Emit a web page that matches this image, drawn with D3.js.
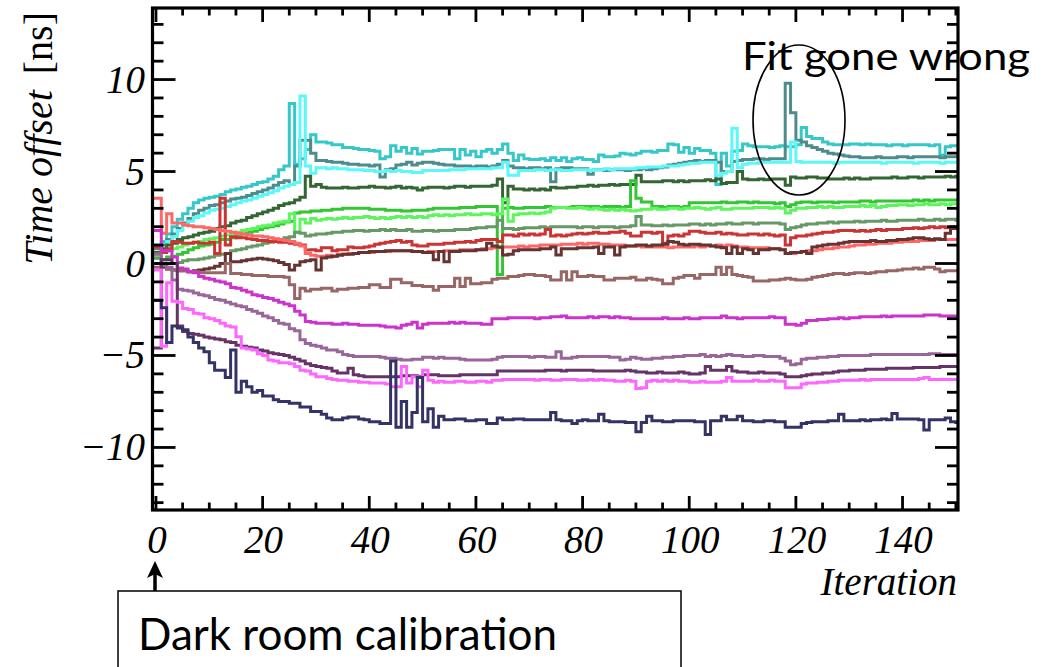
<!DOCTYPE html>
<html>
<head>
<meta charset="utf-8">
<script src="https://cdn.jsdelivr.net/npm/d3@7/dist/d3.min.js"></script>
<style>
  body { margin: 0; background: #fff; }
  svg { display: block; }
</style>
</head>
<body>
<svg id="chart" width="1048" height="667"></svg>
<script>
// Time offset per channel [ns] at each calibration iteration (0..150)
const turquoise = [
  1.0, 1.2, 1.6, 2.0, 2.4, 2.7, 3.0, 3.3, 3.45, 3.55,
  3.6, 3.65, 3.75, 3.9, 4.0, 4.05, 4.15, 4.2, 4.3, 4.4,
  4.45, 4.6, 4.75, 5.1, 5.3, 8.7, 5.4, 5.7, 6.2, 7.0,
  6.6, 6.6, 6.55, 6.45, 6.45, 6.3, 6.3, 6.25, 6.2, 6.2,
  6.15, 6.1, 5.7, 5.8, 6.4, 6.1, 6.3, 6.0, 6.25, 5.95,
  6.1, 6.1, 6.15, 6.2, 6.2, 6.2, 5.7, 6.2, 5.9, 6.1,
  5.8, 6.1, 6.2, 6.0, 6.2, 6.5, 6.0, 5.6, 5.9, 5.7,
  5.65, 5.65, 5.7, 5.6, 5.75, 5.6, 5.75, 5.55, 5.7, 5.75,
  5.65, 5.65, 5.55, 5.9, 5.8, 5.8, 5.85, 6.0, 5.95, 5.9,
  6.0, 6.1, 6.1, 6.05, 6.15, 6.15, 6.5, 6.45, 6.05, 6.3,
  6.0, 6.25, 6.15, 6.15, 6.0, 4.3, 6.0, 5.3, 6.1, 6.15,
  6.5, 6.4, 6.35, 6.35, 6.35, 6.3, 6.35, 6.4, 6.35, 6.35,
  6.45, 7.4, 6.9, 6.8, 6.8, 6.6, 6.5, 6.45, 6.45, 6.45,
  6.5, 6.5, 6.45, 6.5, 6.45, 6.45, 6.45, 6.4, 6.45, 6.45,
  6.4, 6.45, 6.45, 6.45, 6.45, 6.4, 6.45, 5.9, 6.35, 6.4,
  6.4
];
const slate = [
  0.8, 1.0, 1.3, 1.6, 1.9, 2.2, 2.45, 2.7, 2.9, 3.0,
  3.15, 3.2, 3.3, 3.4, 3.5, 3.55, 3.6, 3.7, 3.8, 3.9,
  4.0, 4.1, 4.25, 4.4, 4.5, 4.3, 5.3, 6.7, 6.7, 6.0,
  5.6, 5.6, 5.55, 5.5, 5.5, 5.45, 5.4, 5.4, 5.35, 5.35,
  5.3, 5.35, 4.7, 5.1, 5.15, 5.35, 5.4, 5.5, 5.35, 5.45,
  5.5, 5.5, 5.45, 5.4, 5.35, 5.35, 5.3, 5.3, 5.3, 5.25,
  5.3, 5.3, 5.25, 5.3, 5.4, 5.6, 5.3, 5.2, 5.2, 5.15,
  5.2, 5.2, 5.15, 5.2, 4.45, 5.15, 5.2, 5.2, 5.15, 5.15,
  5.15, 4.85, 5.1, 5.1, 5.05, 5.1, 5.1, 5.1, 5.05, 5.1,
  5.1, 5.15, 5.1, 5.15, 5.2, 5.25, 5.35, 5.4, 5.45, 5.5,
  5.55, 5.6, 5.55, 5.6, 5.6, 5.5, 5.0, 5.0, 5.55, 5.6,
  5.65, 5.65, 5.7, 5.7, 5.65, 5.7, 5.7, 5.7, 9.8, 8.2,
  6.7, 6.6, 6.4, 6.3, 6.2, 6.1, 6.0, 5.95, 5.9, 5.85,
  5.8, 5.8, 5.75, 5.75, 5.75, 5.8, 5.75, 5.75, 5.75, 5.8,
  5.8, 5.75, 5.8, 5.8, 5.8, 5.8, 5.8, 5.75, 5.8, 5.8,
  5.8
];
const lightCyan = [
  0.6, 0.8, 1.2, 1.45, 1.8, 2.1, 2.3, 2.5, 2.6, 2.75,
  2.9, 2.95, 3.0, 3.1, 3.2, 3.3, 3.4, 3.45, 3.55, 3.65,
  3.75, 3.85, 3.95, 4.1, 4.2, 4.3, 4.4, 9.1, 5.3, 4.9,
  5.2, 5.2, 5.15, 5.2, 5.15, 5.15, 5.1, 5.1, 5.1, 5.05,
  5.05, 5.0, 5.0, 5.05, 5.0, 5.05, 5.0, 5.0, 4.95, 4.95,
  5.05, 5.05, 5.05, 5.05, 5.05, 5.1, 5.1, 5.1, 5.15, 5.15,
  5.15, 5.15, 5.15, 5.2, 5.2, 5.5, 4.8, 4.8, 5.05, 5.05,
  5.05, 5.1, 5.1, 5.05, 5.1, 5.1, 5.05, 5.05, 5.1, 5.1,
  5.1, 5.05, 5.1, 5.1, 5.15, 5.1, 5.15, 5.15, 5.15, 5.15,
  5.2, 5.2, 5.25, 5.25, 5.25, 5.3, 5.3, 5.3, 5.35, 5.4,
  5.45, 5.45, 5.5, 5.5, 5.5, 4.8, 4.9, 5.0, 7.35, 5.2,
  5.4, 5.45, 5.45, 5.5, 5.5, 5.5, 5.5, 5.5, 5.5, 6.6,
  5.55, 5.5, 5.5, 5.5, 5.5, 5.5, 5.5, 5.45, 5.5, 5.5,
  5.5, 5.5, 5.5, 5.5, 5.5, 5.5, 5.45, 5.5, 5.5, 5.5,
  5.5, 5.5, 5.45, 5.5, 5.5, 5.5, 5.5, 5.45, 5.5, 5.5,
  5.5
];
const darkGreen = [
  0.6, 0.8, 1.0, 1.1, 1.3, 1.4, 1.45, 1.55, 1.65, 1.7,
  1.75, 1.9, 2.0, 2.05, 2.2, 2.3, 2.35, 2.5, 2.6, 2.7,
  2.8, 2.9, 3.0, 3.15, 3.25, 3.3, 3.45, 3.6, 4.75, 4.2,
  4.3, 4.15, 4.1, 4.1, 4.1, 4.15, 4.1, 4.1, 4.15, 4.15,
  4.2, 4.15, 4.15, 4.1, 4.15, 4.2, 4.1, 4.15, 4.1, 4.0,
  4.1, 4.15, 4.15, 4.15, 4.1, 4.15, 4.2, 4.2, 4.15, 4.2,
  4.2, 4.2, 4.2, 4.25, 4.6, 3.3, 4.2, 4.05, 4.05, 4.0,
  4.05, 4.0, 4.05, 4.0, 4.15, 4.1, 4.1, 4.15, 4.15, 4.2,
  4.2, 4.25, 4.2, 4.25, 4.25, 4.3, 4.25, 4.3, 4.3, 4.3,
  4.8, 4.45, 4.45, 4.45, 4.45, 4.5, 4.5, 4.45, 4.5, 4.45,
  4.5, 4.5, 4.5, 4.55, 4.5, 4.6, 4.35, 4.4, 4.4, 5.0,
  4.6, 4.55, 4.55, 4.6, 4.55, 4.6, 4.6, 4.6, 4.25, 4.7,
  4.65, 4.65, 4.7, 4.7, 4.65, 4.65, 4.6, 4.6, 4.6, 4.65,
  4.6, 4.65, 4.6, 4.6, 4.65, 4.65, 4.65, 4.65, 4.7, 4.65,
  4.65, 4.7, 4.7, 4.65, 4.7, 4.7, 4.7, 4.7, 4.75, 4.7,
  4.75
];
const green = [
  0.3, 0.2, 0.35, 0.4, 0.5, 0.6, 0.75, 0.85, 0.95, 1.0,
  1.05, 1.15, 1.3, 1.3, 1.4, 1.5, 1.6, 1.7, 1.75, 1.85,
  1.95, 2.0, 2.05, 2.15, 2.25, 2.3, 2.75, 2.8, 2.8, 2.85,
  2.85, 2.9, 2.9, 2.95, 2.95, 3.0, 3.0, 3.0, 3.0, 3.0,
  2.95, 2.95, 2.95, 2.9, 2.9, 2.9, 2.85, 2.85, 2.9, 2.9,
  2.9, 2.95, 3.0, 3.0, 3.0, 3.0, 3.0, 3.05, 3.05, 3.05,
  3.1, 3.1, 3.1, 3.1, -0.6, 3.0, 3.05, 3.0, 3.0, 3.05,
  3.05, 3.05, 3.05, 3.1, 3.05, 3.05, 3.05, 3.05, 3.1, 3.1,
  3.1, 3.1, 3.1, 3.05, 3.1, 3.1, 3.1, 3.05, 3.1, 4.5,
  3.55, 3.35, 3.35, 3.1, 3.1, 3.05, 3.1, 3.1, 3.05, 3.1,
  3.3, 3.3, 3.3, 3.3, 3.3, 3.3, 3.35, 3.3, 3.3, 3.35,
  3.35, 3.3, 3.35, 3.3, 3.3, 3.3, 3.25, 3.3, 3.1, 3.2,
  3.3, 3.35, 3.35, 3.3, 3.35, 3.35, 3.35, 3.3, 3.35, 3.35,
  3.35, 3.35, 3.4, 3.4, 3.35, 3.4, 3.4, 3.4, 3.4, 3.4,
  3.4, 3.4, 3.45, 3.4, 3.45, 3.4, 3.45, 3.45, 3.45, 3.45,
  3.45
];
const lightGreen = [
  0.5, 0.6, 0.7, 0.8, 0.9, 1.0, 1.1, 1.15, 1.2, 1.3,
  1.35, 1.4, 1.5, 1.55, 1.6, 1.7, 1.8, 1.85, 1.9, 2.0,
  2.05, 2.1, 2.2, 2.25, 2.3, 2.7, 1.7, 2.4, 2.2, 2.45,
  2.35, 2.4, 2.45, 2.4, 2.45, 2.5, 2.45, 2.5, 2.5, 2.55,
  2.5, 2.45, 2.5, 2.45, 2.5, 2.55, 2.5, 2.55, 2.5, 2.55,
  2.5, 2.6, 2.65, 2.6, 2.65, 2.6, 2.65, 2.65, 2.7, 2.65,
  2.65, 2.7, 2.7, 2.65, 2.7, 3.5, 2.3, 2.65, 2.7, 2.7,
  2.75, 2.7, 2.75, 2.8, 3.0, 3.05, 3.05, 3.0, 3.0, 3.05,
  3.0, 2.95, 3.0, 2.95, 2.9, 2.95, 2.9, 2.95, 2.9, 2.85,
  2.9, 2.95, 2.95, 3.0, 2.95, 2.95, 3.0, 3.0, 2.95, 3.0,
  3.0, 3.05, 3.0, 2.95, 3.0, 3.05, 2.95, 2.95, 3.0, 3.0,
  3.0, 3.0, 3.05, 3.05, 3.05, 3.0, 3.05, 3.0, 2.75, 2.9,
  3.0, 3.0, 3.05, 3.05, 3.1, 3.05, 3.1, 3.05, 3.05, 3.1,
  3.1, 3.1, 3.15, 3.1, 3.15, 3.05, 3.1, 3.15, 3.15, 3.2,
  3.2, 3.15, 3.2, 3.2, 3.25, 3.2, 3.2, 3.25, 3.2, 3.25,
  3.25
];
const grayGreen = [
  0.3, 0.0, 0.0, 0.0, 0.05, 0.15, 0.2, 0.2, 0.25, 0.3,
  0.35, 0.45, 0.5, 0.55, 0.7, 0.75, 0.8, 0.9, 0.95, 1.0,
  1.1, 1.15, 1.25, 1.3, 1.4, 1.45, 1.7, 1.65, 1.5, 1.55,
  1.6, 1.6, 1.65, 1.7, 1.7, 1.75, 1.75, 1.8, 1.8, 1.75,
  1.8, 1.8, 1.85, 1.8, 1.85, 1.8, 1.8, 1.85, 1.75, 1.75,
  1.8, 1.8, 1.75, 1.8, 1.8, 1.8, 1.85, 1.85, 1.85, 1.9,
  1.95, 1.95, 2.0, 2.0, 2.35, 1.9, 1.9, 1.85, 1.9, 1.95,
  1.95, 1.95, 2.0, 1.95, 2.0, 2.0, 2.0, 2.0, 2.0, 1.95,
  2.0, 2.0, 1.95, 2.0, 2.0, 2.0, 1.95, 2.0, 2.0, 2.05,
  2.55, 2.1, 2.1, 2.05, 2.05, 2.1, 2.05, 2.1, 2.1, 2.1,
  2.15, 2.15, 2.1, 2.15, 2.1, 2.15, 2.15, 2.2, 2.15, 2.15,
  2.2, 2.2, 2.15, 2.2, 2.2, 2.2, 2.2, 2.15, 1.85, 1.95,
  2.0, 2.1, 2.15, 2.15, 2.2, 2.2, 2.25, 2.2, 2.25, 2.25,
  2.25, 2.3, 2.25, 2.3, 2.3, 2.3, 2.35, 2.3, 2.3, 2.35,
  2.35, 2.35, 2.35, 2.4, 2.35, 2.35, 2.4, 2.35, 2.4, 2.4,
  2.35
];
const red = [
  0.9, 0.6, 0.8, 1.2, 1.15, 1.1, 1.1, 1.15, 1.1, 1.1,
  1.15, 0.55, 3.55, 1.0, 1.45, 1.4, 1.4, 1.35, 1.3, 1.25,
  1.25, 1.2, 1.2, 1.15, 1.15, 1.1, 1.05, 1.0, 0.73, 0.75,
  0.7, 0.85, 0.85, 0.7, 0.75, 0.75, 0.9, 0.85, 0.85, 0.9,
  0.95, 1.05, 1.1, 1.15, 1.2, 1.25, 1.15, 1.2, 1.0, 0.95,
  0.95, 1.05, 1.05, 1.05, 1.1, 1.1, 1.15, 1.15, 1.2, 1.15,
  1.25, 1.3, 1.3, 1.3, 1.2, 1.55, 1.55, 1.5, 1.6, 1.55,
  1.6, 1.55, 1.6, 1.85, 1.5, 1.55, 1.5, 1.55, 1.6, 1.65,
  1.6, 1.65, 1.7, 1.65, 1.65, 1.7, 1.7, 1.75, 1.65, 1.5,
  1.5, 1.7, 1.7, 1.65, 1.7, 1.1, 1.5, 1.55, 1.5, 1.6,
  1.75, 1.75, 1.7, 1.65, 1.65, 1.7, 1.6, 1.65, 1.6, 1.55,
  1.55, 1.6, 1.6, 1.55, 1.6, 1.55, 1.5, 1.55, 1.0, 1.4,
  1.5, 1.5, 1.55, 1.6, 1.65, 1.7, 1.7, 1.75, 1.8, 1.8,
  1.8, 1.75, 1.8, 1.75, 1.8, 1.85, 1.8, 1.85, 1.85, 1.85,
  1.9, 1.9, 1.95, 1.9, 1.95, 2.0, 1.95, 2.0, 1.95, 2.0,
  1.95
];
const salmon = [
  3.55, 1.65, 2.7, 2.2, 2.2, 2.1, 2.05, 2.0, 2.0, 1.95,
  1.9, 1.85, 1.8, 1.75, 1.7, 1.65, 1.6, 1.55, 1.5, 1.5,
  1.45, 1.4, 1.35, 1.3, 1.25, 1.2, 1.1, 0.95, 0.55, 0.45,
  0.4, 0.4, 0.45, 0.4, 0.5, 0.5, 0.55, 0.55, 0.6, 0.6,
  0.6, 0.65, 0.65, 0.65, 0.7, 0.7, 0.7, 0.7, 0.65, 0.65,
  0.6, 0.65, 0.65, 0.65, 0.7, 0.7, 0.7, 0.75, 0.75, 0.75,
  0.75, 0.8, 0.8, 0.85, 0.85, 0.9, 0.9, 0.9, 0.95, 0.9,
  0.95, 0.95, 1.0, 1.0, 1.0, 1.0, 1.05, 1.05, 1.05, 1.1,
  1.05, 1.1, 1.1, 1.05, 1.05, 1.0, 1.0, 1.0, 0.95, 0.95,
  0.95, 0.9, 0.9, 0.9, 0.9, 0.9, 0.85, 0.9, 0.9, 0.9,
  0.9, 0.95, 0.9, 0.95, 0.95, 1.0, 0.95, 1.0, 0.95, 0.9,
  0.9, 0.85, 0.85, 0.85, 0.85, 0.8, 0.8, 0.75, 0.55, 0.55,
  0.6, 0.65, 0.7, 0.7, 0.75, 0.8, 0.8, 0.85, 0.9, 0.9,
  0.95, 1.0, 1.0, 1.05, 1.05, 1.1, 1.1, 1.1, 1.15, 1.15,
  1.2, 1.2, 1.2, 1.25, 1.25, 1.25, 1.3, 1.3, 1.3, 1.3,
  1.3
];
const darkBrown = [
  0.0, -0.2, -0.3, -0.35, -0.4, -0.4, -0.45, -0.4, -0.35, -0.3,
  -0.25, -0.15, 0.0, 0.55, 0.1, 0.1, 0.15, 0.2, 0.25, 0.28,
  0.25, 0.2, 0.15, 0.05, -0.05, -0.35, -0.1, 0.1, 0.15, 0.2,
  -0.35, 0.3, 0.35, 0.4, 0.45, 0.5, 0.5, 0.55, 0.6, 0.6,
  0.65, 0.65, 0.65, 0.7, 0.7, 0.7, 0.7, 0.7, 0.65, 0.65,
  0.6, 0.6, 0.2, 0.65, 0.1, 0.65, 0.65, 0.7, 0.7, 0.7,
  0.75, 0.75, 1.1, 0.95, 0.9, 0.46, 0.5, 0.7, 0.75, 0.75,
  0.75, 0.75, 0.8, 0.8, 0.9, 0.46, 0.8, 0.8, 0.8, 0.85,
  0.85, 0.85, 0.9, 0.55, 0.9, 0.9, 0.46, 0.9, 0.95, 0.95,
  1.0, 1.0, 0.95, 1.0, 1.0, 1.05, 1.2, 1.15, 1.05, 1.0,
  1.05, 1.05, 1.0, 1.0, 0.95, 0.9, 0.85, 0.55, 0.9, 0.55,
  0.8, 0.75, 0.55, 0.75, 0.75, 0.8, 0.8, 0.75, 0.55, 0.6,
  0.6, 0.65, 0.55, 0.9, 0.95, 1.0, 1.05, 1.05, 1.1, 1.15,
  1.2, 1.2, 1.2, 1.2, 1.25, 1.2, 1.2, 1.25, 1.25, 1.3,
  1.3, 1.35, 1.4, 1.4, 1.35, 1.3, 1.35, 1.3, 1.65, 1.9,
  1.9
];
const rosyBrown = [
  -0.2, -0.1, -0.3, -0.35, -0.4, -0.4, -0.45, -0.45, -0.5, -0.5,
  -0.5, -0.5, -0.5, 0.0, -0.55, -0.55, -0.6, -0.6, -0.65, -0.65,
  -0.65, -0.7, -0.7, -0.7, -0.75, -1.15, -1.9, -1.35, -1.5, -1.4,
  -1.4, -1.35, -1.35, -1.5, -1.4, -1.4, -1.35, -1.35, -1.3, -1.3,
  -1.15, -1.15, -1.3, -1.3, -0.85, -0.85, -1.05, -1.05, -1.2, -1.2,
  -1.25, -1.25, -1.45, -1.25, -1.25, -1.25, -0.8, -1.25, -0.8, -1.1,
  -1.1, -1.05, -1.05, -0.85, -0.8, -0.8, -0.7, -0.7, -0.65, -0.6,
  -0.6, -0.65, -0.65, -0.7, -0.9, -0.9, -0.45, -0.9, -0.45, -0.7,
  -0.7, -0.65, -0.7, -0.7, -0.9, -0.9, -0.8, -0.8, -0.8, -0.75,
  -0.9, -0.9, -0.8, -0.85, -0.9, -1.1, -1.1, -0.8, -0.75, -0.65,
  -0.65, -0.8, -0.6, -0.6, -0.6, -0.2, -0.6, -0.2, -0.6, -0.65,
  -0.7, -0.75, -0.95, -0.95, -0.95, -0.9, -0.9, -0.85, -0.8, -0.85,
  -0.9, -0.9, -0.85, -0.75, -0.7, -0.65, -0.6, -0.55, -0.55, -0.6,
  -0.55, -0.5, -0.5, -0.55, -0.5, -0.45, -0.45, -0.4, -0.4, -0.35,
  -0.3, -0.3, -0.25, -0.3, -0.2, -0.2, -0.3, -0.45, -0.4, -0.4,
  -0.4
];
const magenta = [
  1.8, 0.7, 0.7, 0.35, -0.25, -0.3, -0.45, -0.5, -0.7, -0.8,
  -0.85, -0.95, -1.0, -1.1, -1.3, -1.35, -1.45, -1.55, -1.7, -1.75,
  -1.85, -1.9, -2.0, -2.1, -2.2, -2.3, -2.6, -2.8, -3.15, -3.2,
  -3.25, -3.25, -3.25, -3.3, -3.3, -3.25, -3.3, -3.3, -3.35, -3.35,
  -3.35, -3.35, -3.4, -3.45, -3.45, -3.5, -3.35, -3.3, -3.2, -3.5,
  -3.3, -3.25, -3.25, -3.25, -3.25, -3.2, -3.25, -3.2, -3.25, -3.25,
  -3.25, -3.3, -3.3, -3.0, -3.0, -3.0, -2.95, -2.95, -2.95, -2.95,
  -2.95, -3.0, -2.95, -2.95, -2.9, -2.9, -2.85, -2.95, -2.95, -2.95,
  -2.95, -2.9, -2.95, -2.9, -2.9, -2.95, -2.9, -2.95, -2.95, -3.0,
  -3.0, -3.0, -3.0, -3.0, -3.0, -2.95, -3.0, -3.0, -3.0, -2.95,
  -3.0, -3.0, -2.95, -2.95, -2.95, -2.95, -2.85, -2.95, -2.95, -3.0,
  -2.95, -2.95, -2.95, -2.95, -2.95, -2.9, -2.95, -2.95, -3.3, -3.3,
  -3.35, -3.25, -3.1, -3.1, -3.05, -3.05, -3.0, -3.0, -2.95, -3.0,
  -2.95, -2.95, -2.9, -2.9, -2.9, -2.9, -2.85, -2.9, -2.85, -2.85,
  -2.85, -2.85, -2.85, -2.85, -2.8, -2.8, -2.8, -2.85, -2.85, -2.85,
  -2.85
];
const mauve = [
  0.5, -0.1, -0.2, -0.9, -1.4, -1.45, -1.5, -1.6, -1.7, -1.75,
  -1.85, -1.95, -2.0, -2.1, -2.2, -2.3, -2.35, -2.5, -2.6, -2.7,
  -2.85, -2.95, -3.1, -3.25, -3.3, -3.55, -3.65, -4.15, -4.35, -4.45,
  -4.5, -4.6, -4.7, -4.7, -4.8, -4.95, -5.0, -5.05, -5.05, -5.05,
  -5.05, -5.05, -5.1, -5.15, -5.15, -5.2, -5.25, -5.25, -5.2, -5.2,
  -5.1, -5.1, -5.15, -5.1, -5.15, -5.15, -5.15, -5.2, -5.25, -5.25,
  -5.25, -5.25, -5.25, -5.2, -5.1, -5.05, -5.05, -5.05, -5.05, -5.05,
  -5.1, -5.05, -5.05, -5.1, -5.1, -4.8, -5.15, -5.15, -5.1, -5.05,
  -5.05, -5.05, -5.05, -5.05, -5.05, -5.1, -5.1, -5.25, -5.2, -5.1,
  -5.15, -5.2, -5.2, -5.15, -5.15, -5.1, -5.1, -5.05, -5.05, -5.0,
  -5.0, -5.0, -4.95, -5.05, -5.0, -5.05, -5.0, -4.95, -5.0, -5.0,
  -5.05, -5.05, -5.0, -5.0, -5.05, -5.05, -5.05, -5.15, -5.3, -5.5,
  -5.45, -5.2, -5.15, -5.15, -5.1, -5.1, -5.05, -5.05, -5.0, -5.0,
  -5.0, -5.0, -5.0, -5.0, -4.95, -4.95, -4.95, -4.95, -4.95, -4.95,
  -4.95, -4.95, -4.95, -4.95, -4.95, -4.9, -4.9, -4.95, -4.95, -4.95,
  -4.95
];
const darkPurple = [
  -4.6, 0.2, 0.2, 0.0, -3.4, -3.7, -3.8, -3.85, -3.9, -4.0,
  -4.05, -4.1, -4.15, -4.25, -4.3, -4.45, -4.5, -4.55, -4.6, -4.7,
  -4.75, -4.85, -4.9, -4.95, -5.0, -5.1, -5.2, -5.3, -5.45, -5.55,
  -5.6, -5.65, -5.7, -5.85, -5.95, -5.95, -5.7, -6.05, -6.1, -6.15,
  -6.15, -6.15, -6.15, -6.15, -6.15, -6.15, -6.1, -6.1, -6.1, -6.15,
  -6.05, -6.05, -6.05, -6.1, -6.1, -6.1, -6.1, -6.05, -6.05, -6.05,
  -6.05, -6.05, -6.05, -6.05, -5.85, -5.85, -5.85, -5.85, -5.85, -5.85,
  -5.85, -5.85, -5.85, -5.8, -5.8, -5.8, -5.85, -5.8, -5.8, -5.8,
  -5.8, -5.8, -5.85, -5.85, -5.85, -5.85, -5.85, -5.85, -5.8, -5.85,
  -5.9, -5.9, -5.95, -5.95, -5.9, -5.95, -5.95, -5.95, -5.9, -5.95,
  -6.0, -6.0, -5.95, -5.6, -5.8, -5.8, -5.8, -5.6, -5.85, -5.9,
  -5.9, -5.95, -5.95, -5.9, -5.95, -5.95, -5.95, -6.0, -6.15, -6.15,
  -6.15, -6.1, -6.05, -6.0, -6.0, -5.95, -5.95, -5.9, -5.85, -5.85,
  -5.8, -5.8, -5.8, -5.75, -5.75, -5.75, -5.75, -5.7, -5.7, -5.7,
  -5.7, -5.7, -5.65, -5.65, -5.65, -5.65, -5.65, -5.6, -5.6, -5.6,
  -5.6
];
const pink = [
  -0.35, -4.5, -1.05, -2.05, -2.1, -2.45, -2.5, -2.7, -2.75, -2.95,
  -3.0, -3.1, -3.25, -3.4, -3.45, -3.98, -4.6, -4.65, -4.7, -4.9,
  -5.0, -5.25, -5.3, -5.4, -5.4, -5.45, -5.6, -5.8, -5.85, -6.0,
  -6.15, -6.15, -6.25, -6.3, -6.35, -6.35, -6.4, -6.4, -6.45, -6.45,
  -6.5, -6.5, -6.5, -6.55, -6.7, -6.7, -5.6, -6.5, -6.15, -6.7,
  -5.8, -6.35, -6.45, -6.4, -6.45, -6.45, -6.4, -6.4, -6.45, -6.45,
  -6.4, -6.4, -6.45, -6.35, -6.35, -6.3, -6.3, -6.3, -6.3, -6.3,
  -6.3, -6.35, -6.3, -6.3, -6.35, -6.35, -6.3, -6.3, -6.3, -6.35,
  -6.35, -6.3, -6.35, -6.3, -6.35, -6.35, -6.4, -6.4, -6.35, -6.4,
  -6.8, -6.75, -6.4, -6.35, -6.4, -6.35, -6.4, -6.35, -6.4, -6.4,
  -6.45, -6.45, -6.4, -6.45, -6.45, -6.45, -6.4, -6.2, -6.4, -6.4,
  -6.4, -6.4, -6.35, -6.4, -6.4, -6.35, -6.4, -6.4, -6.75, -6.75,
  -6.75, -6.55, -6.5, -6.5, -6.45, -6.45, -6.4, -6.4, -6.35, -6.35,
  -6.35, -6.35, -6.3, -6.35, -6.3, -6.3, -6.3, -6.3, -6.3, -6.3,
  -6.3, -6.3, -6.3, -6.25, -6.2, -6.3, -6.3, -6.3, -6.3, -6.3,
  -6.3
];
const navy = [
  -2.0, -2.4, -4.3, -3.4, -3.5, -3.6, -4.0, -4.3, -4.6, -4.8,
  -5.4, -5.8, -5.8, -6.2, -4.7, -7.0, -6.4, -6.7, -7.0, -6.9,
  -7.2, -7.2, -7.4, -7.5, -7.5, -7.6, -7.6, -7.8, -7.8, -8.05,
  -8.05, -8.2, -8.4, -8.5, -8.5, -8.4, -8.35, -8.35, -8.45, -8.5,
  -8.6, -8.6, -8.7, -8.7, -5.3, -8.9, -7.5, -8.9, -8.1, -6.2,
  -8.6, -7.9, -8.9, -8.3, -8.5, -8.5, -8.45, -8.45, -8.55, -8.55,
  -8.5, -8.5, -8.7, -8.7, -8.4, -8.5, -8.5, -8.45, -8.45, -8.5,
  -8.5, -8.5, -8.5, -8.5, -8.1, -8.5, -8.55, -8.55, -8.7, -8.55,
  -8.5, -8.55, -8.55, -8.2, -8.55, -8.6, -8.6, -8.6, -8.65, -8.65,
  -9.15, -8.65, -8.3, -8.55, -8.55, -8.6, -8.6, -8.55, -8.55, -8.55,
  -8.55, -8.6, -8.6, -9.3, -8.55, -8.55, -8.3, -8.5, -8.5, -8.3,
  -8.55, -8.55, -8.6, -8.6, -8.55, -8.55, -8.6, -8.6, -8.9, -8.9,
  -8.9, -8.7, -8.65, -8.6, -8.6, -8.6, -8.55, -8.55, -8.2, -8.55,
  -8.55, -8.55, -8.5, -8.55, -8.5, -8.5, -8.45, -8.5, -8.15, -8.45,
  -8.45, -8.45, -8.45, -8.5, -9.05, -8.5, -8.5, -8.5, -8.4, -8.6,
  -8.65
];

// Channel list and line colours (drawn in this order)
const channelValues = [turquoise, slate, lightCyan, darkGreen, green, lightGreen, grayGreen,
  red, salmon, darkBrown, rosyBrown, magenta, mauve, darkPurple, pink, navy];
const channelColors = ["#36C8C8", "#4E8C8C", "#5AF8F8", "#336633", "#33C633", "#5CF55C", "#669966",
  "#CC3333", "#FF6666", "#663333", "#996666", "#CC33CC", "#996699", "#663366", "#FF66FF", "#333366"];

// Axis ticks and labels
const xMajorTicks = [0, 20, 40, 60, 80, 100, 120, 140];
const xTickLabels = ["0", "20", "40", "60", "80", "100", "120", "140"];
const yMajorTicks = [-10, -5, 0, 5, 10];
const yTickLabels = ["\u221210", "\u22125", "0", "5", "10"];

const svg = d3.select("#chart");
const frame = { left: 152.5, right: 958, top: 8, bottom: 510 };

const x = d3.scaleLinear().domain([-0.65, 150.4]).range([frame.left, frame.right]);
const y = d3.scaleLinear().domain([-13.4, 13.89]).range([frame.bottom, frame.top]);

svg.append("rect").attr("width", 1048).attr("height", 667).attr("fill", "#fff");

svg.append("defs").append("clipPath").attr("id", "plotArea")
  .append("rect")
  .attr("x", frame.left).attr("y", frame.top)
  .attr("width", frame.right - frame.left).attr("height", frame.bottom - frame.top);

// Step histograms: bin i spans [i, i+1); the first bin reaches back to the frame edge
const stepLine = d3.line()
  .x(d => x(d[0]))
  .y(d => y(d[1]))
  .curve(d3.curveStepAfter);

const histGroup = svg.append("g").attr("clip-path", "url(#plotArea)");
channelValues.forEach((vals, k) => {
  const pts = [[x.domain()[0], vals[0]]];
  for (let i = 1; i < vals.length; i++) pts.push([i, vals[i]]);
  pts.push([vals.length, vals[vals.length - 1]]);
  histGroup.append("path")
    .attr("d", stepLine(pts))
    .attr("fill", "none")
    .attr("stroke", channelColors[k])
    .attr("stroke-width", 3)
    .attr("stroke-linejoin", "miter");
});

// Frame with inward ticks on all four sides
const axes = svg.append("g").attr("stroke", "#000").attr("fill", "none");
const xMinor = d3.range(0, 151, 5);
xMinor.forEach(v => {
  const len = xMajorTicks.includes(v) ? 14 : 7.5;
  axes.append("line").attr("x1", x(v)).attr("x2", x(v))
    .attr("y1", frame.bottom).attr("y2", frame.bottom - len).attr("stroke-width", 2.8);
  axes.append("line").attr("x1", x(v)).attr("x2", x(v))
    .attr("y1", frame.top).attr("y2", frame.top + len).attr("stroke-width", 2.8);
});
const yMinor = d3.range(-13, 14, 1);
yMinor.forEach(v => {
  const len = yMajorTicks.includes(v) ? 23 : 11;
  axes.append("line").attr("x1", frame.left).attr("x2", frame.left + len)
    .attr("y1", y(v)).attr("y2", y(v)).attr("stroke-width", 2.8);
  axes.append("line").attr("x1", frame.right).attr("x2", frame.right - len)
    .attr("y1", y(v)).attr("y2", y(v)).attr("stroke-width", 2.8);
});
axes.append("rect")
  .attr("x", frame.left).attr("y", frame.top)
  .attr("width", frame.right - frame.left).attr("height", frame.bottom - frame.top)
  .attr("stroke-width", 3.2);

// Tick labels
const labelFont = "'Liberation Serif', 'Times New Roman', serif";
svg.append("g").selectAll("text").data(xMajorTicks).join("text")
  .attr("x", d => x(d) + 1)
  .attr("y", 553)
  .attr("text-anchor", "middle")
  .attr("font-family", labelFont).attr("font-style", "italic").attr("font-size", 39)
  .text((d, i) => xTickLabels[i]);

svg.append("g").selectAll("text").data(yMajorTicks).join("text")
  .attr("x", 145)
  .attr("y", d => y(d) + 13)
  .attr("text-anchor", "end")
  .attr("font-family", labelFont).attr("font-style", "italic").attr("font-size", 39)
  .text((d, i) => yTickLabels[i]);

// Axis titles
svg.append("text")
  .attr("x", 957).attr("y", 595)
  .attr("text-anchor", "end")
  .attr("font-family", labelFont).attr("font-style", "italic").attr("font-size", 39)
  .text("Iteration");

const yTitle = svg.append("text")
  .attr("transform", "translate(52,12) rotate(-90)")
  .attr("text-anchor", "end")
  .attr("font-family", labelFont).attr("font-size", 40);
yTitle.append("tspan").attr("font-style", "italic").text("Time offset");
yTitle.append("tspan").attr("dx", 16).text("[ns]");

// Annotations
const noteFont = "Lato, 'Open Sans', sans-serif";
svg.append("ellipse")
  .attr("cx", 799).attr("cy", 120).attr("rx", 46).attr("ry", 75)
  .attr("fill", "none").attr("stroke", "#000").attr("stroke-width", 1.6);

svg.append("text")
  .attr("x", 742).attr("y", 70)
  .attr("font-family", noteFont).attr("font-size", 38)
  .attr("textLength", 288).attr("lengthAdjust", "spacingAndGlyphs")
  .attr("fill", "#000")
  .text("Fit gone wrong");

svg.append("line")
  .attr("x1", 155).attr("x2", 155).attr("y1", 592).attr("y2", 572)
  .attr("stroke", "#000").attr("stroke-width", 3.5);
svg.append("path")
  .attr("d", "M147,578 L155,561 L163,578 L155,574 Z")
  .attr("fill", "#000");

svg.append("rect")
  .attr("x", 118).attr("y", 591).attr("width", 563).attr("height", 120)
  .attr("fill", "#fff").attr("stroke", "#000").attr("stroke-width", 1.5);

svg.append("text")
  .attr("x", 138).attr("y", 650)
  .attr("font-family", noteFont).attr("font-size", 44)
  .attr("textLength", 419).attr("lengthAdjust", "spacingAndGlyphs")
  .attr("fill", "#000")
  .text("Dark room calibration");
</script>
</body>
</html>
